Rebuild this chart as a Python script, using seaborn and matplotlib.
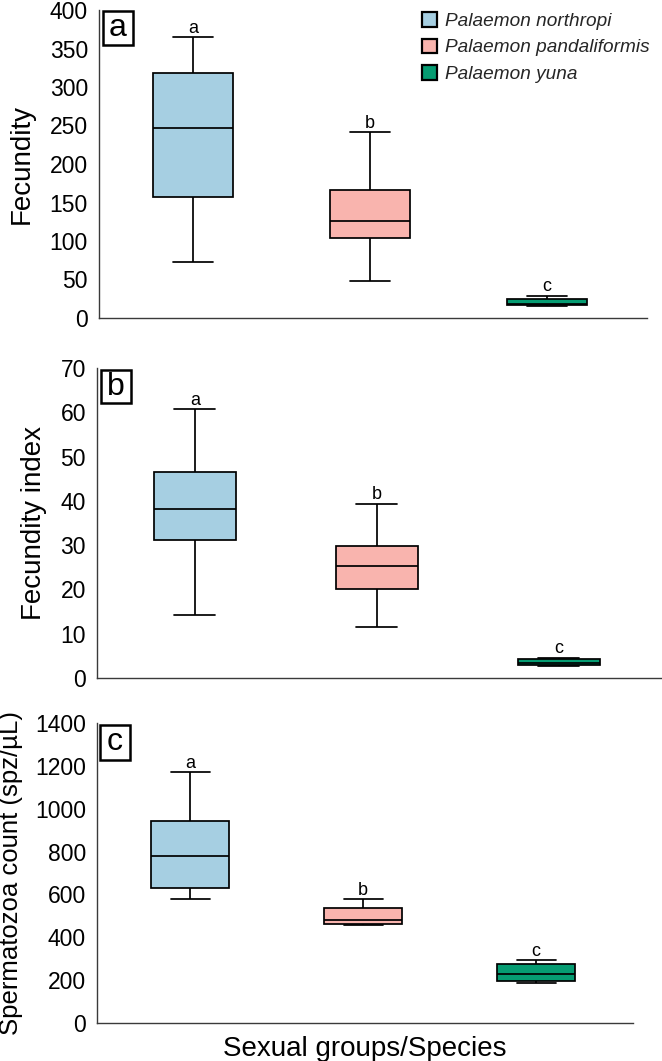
import matplotlib
matplotlib.use("Agg")
import matplotlib.pyplot as plt
import seaborn as sns
import pandas as pd
from matplotlib.patches import Patch, Rectangle

# ---- data (five-number summaries: min, Q1, median, Q3, max) ----
species = ["Palaemon northropi", "Palaemon pandaliformis", "Palaemon yuna"]
colors = ["#A6CFE2", "#F9B4AE", "#069C72"]
sig_letters = ["a", "b", "c"]

fecundity_northropi = [73, 157, 247, 318, 365]
fecundity_pandaliformis = [48, 104, 126, 166, 241]
fecundity_yuna = [15, 17, 18, 25, 29]

findex_northropi = [14.2, 31.1, 38.1, 46.6, 60.7]
findex_pandaliformis = [11.5, 20.2, 25.3, 29.8, 39.4]
findex_yuna = [2.7, 2.9, 3.3, 4.2, 4.6]

sperm_northropi = [577, 631, 779, 942, 1171]
sperm_pandaliformis = [458, 464, 480, 539, 577]
sperm_yuna = [187, 195, 228, 274, 293]

ylabels = ["Fecundity", "Fecundity index", "Spermatozoa count (spz/\u00b5L)"]
ylims = [(0, 400), (0, 70), (0, 1400)]
yticks = [list(range(0, 401, 50)), list(range(0, 71, 10)), list(range(0, 1401, 200))]
panel_tags = ["a", "b", "c"]
xlabel = "Sexual groups/Species"

panels = [
    [fecundity_northropi, fecundity_pandaliformis, fecundity_yuna],
    [findex_northropi, findex_pandaliformis, findex_yuna],
    [sperm_northropi, sperm_pandaliformis, sperm_yuna],
]

# ---- layout ----
sns.set_theme(style="white")
plt.rcParams["font.family"] = ["Liberation Sans", "DejaVu Sans"]

W, H = 662, 1061
fig = plt.figure(figsize=(W / 100, H / 100), dpi=100)

def px_axes(l, r, t, b):
    return [l / W, 1 - b / H, (r - l) / W, (b - t) / H]

positions = [px_axes(99, 647, 10, 318), px_axes(97, 662, 368, 678), px_axes(97, 633, 723, 1023)]
xlims = [(-0.53, 2.565), (-0.538, 2.566), (-0.54, 2.56)]
label_x = [-0.117, -0.0885, -0.138]
label_sizes = [20, 20, 18.5]
tag_boxes = [(0.0073, 0.886, 0.0547, 0.111), (0.0071, 0.887, 0.053, 0.1065), (0.0056, 0.877, 0.056, 0.116)]

palette = dict(zip(species, colors))

for i, vals in enumerate(panels):
    ax = fig.add_axes(positions[i])
    rows = []
    for sp, v in zip(species, vals):
        for x in v:
            rows.append({"species": sp, "value": x})
    df = pd.DataFrame(rows)
    sns.boxplot(data=df, x="species", y="value", hue="species", order=species,
                hue_order=species, palette=palette, width=0.45, linewidth=1.25,
                linecolor="black", whis=(0, 100), showfliers=False, legend=False,
                saturation=1, ax=ax)
    ax.set_xlim(*xlims[i])
    ax.set_ylim(*ylims[i])
    ax.set_yticks(yticks[i])
    ax.tick_params(axis="y", length=0, labelsize=16.5, pad=8, colors="black")
    ax.set_xticks([])
    ax.set_xlabel("")
    ax.set_ylabel(ylabels[i], fontsize=label_sizes[i], color="black")
    ax.yaxis.set_label_coords(label_x[i], 0.5)
    for s in ["top", "right"]:
        ax.spines[s].set_visible(False)
    for s in ["left", "bottom"]:
        ax.spines[s].set_color("#3a3a3a")
        ax.spines[s].set_linewidth(1.0)
    # significance letters
    for j, v in enumerate(vals):
        ax.annotate(sig_letters[j], xy=(j, v[-1]), xytext=(0, 0.3), textcoords="offset points",
                    ha="center", va="bottom", fontsize=13, color="black")
    # panel tag
    bx, by, bw, bh = tag_boxes[i]
    ax.add_patch(Rectangle((bx, by), bw, bh, transform=ax.transAxes, facecolor="white",
                           edgecolor="black", linewidth=1.8, clip_on=False, zorder=5))
    ax.text(bx + bw / 2, by + bh / 2, panel_tags[i], transform=ax.transAxes, ha="center",
            va="center", fontsize=23, color="black", zorder=6)
    if i == 0:
        handles = [Patch(facecolor=c, edgecolor="black", linewidth=1.6) for c in colors]
        leg = ax.legend(handles, species, loc="upper left", bbox_to_anchor=(0.589, 0.993),
                        frameon=False, fontsize=13.7, handlelength=0.8, handleheight=0.8,
                        handletextpad=0.4, labelspacing=0.45, borderpad=0, borderaxespad=0)
        for t in leg.get_texts():
            t.set_fontstyle("italic")
    if i == 2:
        ax.set_xlabel(xlabel, fontsize=20, color="black", labelpad=9)

fig.savefig("out.png", dpi=100)
